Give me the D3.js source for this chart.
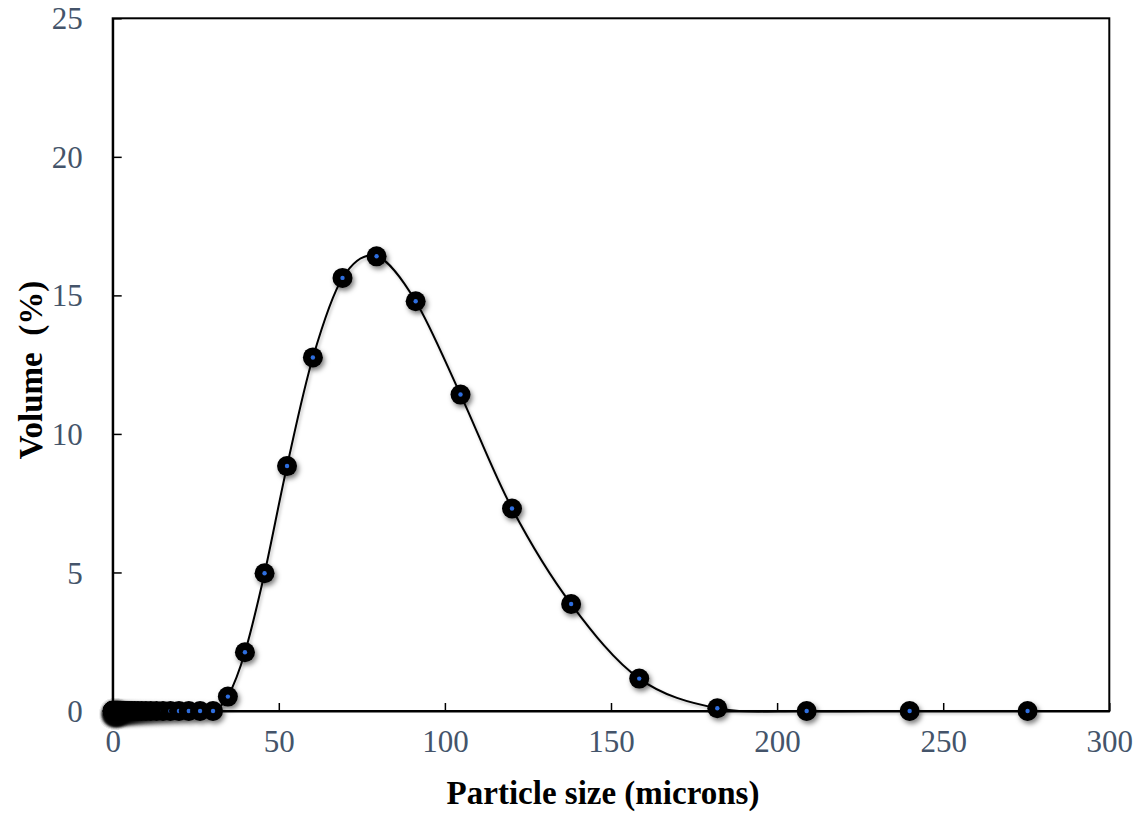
<!DOCTYPE html>
<html>
<head>
<meta charset="utf-8">
<script src="https://cdn.jsdelivr.net/npm/d3@7/dist/d3.min.js"></script>
<style>
  html, body { margin: 0; padding: 0; background: #ffffff; }
  svg { display: block; }
  .tick-label { font-family: "Liberation Serif", "Times New Roman", serif; font-size: 31px; fill: #44546a; }
  .axis-title { font-family: "Liberation Serif", "Times New Roman", serif; font-size: 33px; font-weight: bold; fill: #000; }
</style>
</head>
<body>
<svg id="chart" width="1143" height="817"></svg>
<script>
// Particle size bins (microns)
const particleSizes = [
  0.020, 0.023, 0.026, 0.030, 0.035, 0.040, 0.046, 0.052, 0.060, 0.069,
  0.079, 0.091, 0.105, 0.120, 0.138, 0.158, 0.182, 0.209, 0.240, 0.275,
  0.316, 0.363, 0.417, 0.479, 0.550, 0.631, 0.724, 0.832, 0.955, 1.096,
  1.259, 1.445, 1.660, 1.905, 2.188, 2.512, 2.884, 3.311, 3.802, 4.365,
  5.012, 5.754, 6.607, 7.586, 8.710, 10.00, 11.48, 13.18, 15.14, 17.38,
  19.95, 22.91, 26.30, 30.20, 34.67, 39.81, 45.71, 52.48, 60.26, 69.18,
  79.43, 91.20, 104.7, 120.2, 138.0, 158.5, 182.0, 208.9, 239.9, 275.4
];

// Volume fraction in each bin (%)
const volumePercent = [
  0, 0, 0, 0, 0, 0, 0, 0, 0, 0,
  0, 0, 0, 0, 0, 0, 0, 0, 0, 0,
  0, 0, 0, 0, 0, 0, 0, 0, 0, 0,
  0, 0, 0, 0, 0, 0, 0, 0, 0, 0,
  0, 0, 0, 0, 0, 0, 0, 0, 0, 0,
  0, 0, 0, 0, 0.52, 2.12, 4.97, 8.84, 12.76, 15.63,
  16.41, 14.79, 11.42, 7.31, 3.86, 1.17, 0.10, 0, 0, 0
];

const xTickValues = [0, 50, 100, 150, 200, 250, 300];
const yTickValues = [0, 5, 10, 15, 20, 25];
const xTitle = "Particle size (microns)";
const yTitle = "Volume  (%)";

const points = particleSizes.map((s, i) => ({ size: s, vol: volumePercent[i] }));

const svg = d3.select("#chart");
const margin = { left: 112.7, right: 33.7, top: 18.3, bottom: 106 };
const W = 1143, H = 817;
const plotW = W - margin.left - margin.right;
const plotH = H - margin.top - margin.bottom;

const x = d3.scaleLinear().domain([0, 300]).range([margin.left, margin.left + plotW]);
const y = d3.scaleLinear().domain([0, 25]).range([margin.top + plotH, margin.top]);

// Shadows for markers and the curve
const defs = svg.append("defs");
const mShadow = defs.append("filter").attr("id", "markerShadow")
  .attr("x", "-60%").attr("y", "-60%").attr("width", "220%").attr("height", "220%");
mShadow.append("feDropShadow").attr("dx", 2).attr("dy", 3)
  .attr("stdDeviation", 2.4).attr("flood-color", "#000").attr("flood-opacity", 0.5);
const lShadow = defs.append("filter").attr("id", "lineShadow")
  .attr("x", "-10%").attr("y", "-10%").attr("width", "120%").attr("height", "120%");
lShadow.append("feDropShadow").attr("dx", 1.5).attr("dy", 2)
  .attr("stdDeviation", 1.5).attr("flood-color", "#000").attr("flood-opacity", 0.25);

// Plot frame
svg.append("rect")
  .attr("x", margin.left).attr("y", margin.top)
  .attr("width", plotW).attr("height", plotH)
  .attr("fill", "none").attr("stroke", "#000").attr("stroke-width", 2);

// X axis: inward ticks, labels below
const xAxis = d3.axisBottom(x).tickValues(xTickValues).tickSizeInner(-8).tickSizeOuter(0).tickPadding(19);
const gx = svg.append("g").attr("transform", `translate(0,${margin.top + plotH})`).call(xAxis);
gx.select(".domain").attr("stroke", "#000").attr("stroke-width", 2);
gx.selectAll(".tick line").attr("stroke", "#000").attr("stroke-width", 1.5);
gx.selectAll(".tick text").attr("class", "tick-label").attr("dy", "0.71em");

// Y axis: inward ticks, labels left
const yAxis = d3.axisLeft(y).tickValues(yTickValues).tickSizeInner(-9).tickSizeOuter(0).tickPadding(30);
const gy = svg.append("g").attr("transform", `translate(${margin.left},0)`).call(yAxis);
gy.select(".domain").attr("stroke", "#000").attr("stroke-width", 2);
gy.selectAll(".tick line").attr("stroke", "#000").attr("stroke-width", 1.5);
gy.selectAll(".tick text").attr("class", "tick-label").attr("dy", "0.34em");

// Smoothed curve through the distribution
const line = d3.line()
  .x(d => x(d.size)).y(d => y(d.vol))
  .curve(d3.curveCatmullRom.alpha(0));
svg.append("path")
  .datum(points)
  .attr("d", line)
  .attr("fill", "none")
  .attr("stroke", "#000")
  .attr("stroke-width", 2)
  .attr("filter", "url(#lineShadow)");

// Markers: black disc with a small blue centre
const marks = svg.append("g").selectAll("g.mark").data(points).join("g")
  .attr("class", "mark")
  .attr("transform", d => `translate(${x(d.size)},${y(d.vol)})`);
marks.append("circle").attr("r", 10).attr("fill", "#000").attr("filter", "url(#markerShadow)");
marks.append("circle").attr("r", 2.2).attr("fill", "#2f6fe0");

// Axis titles
svg.append("text").attr("class", "axis-title")
  .attr("x", 603).attr("y", 804)
  .attr("text-anchor", "middle")
  .text(xTitle);
svg.append("text").attr("class", "axis-title")
  .attr("transform", "translate(42,370) rotate(-90)")
  .attr("text-anchor", "middle")
  .attr("xml:space", "preserve")
  .style("white-space", "pre")
  .text(yTitle);
</script>
</body>
</html>
